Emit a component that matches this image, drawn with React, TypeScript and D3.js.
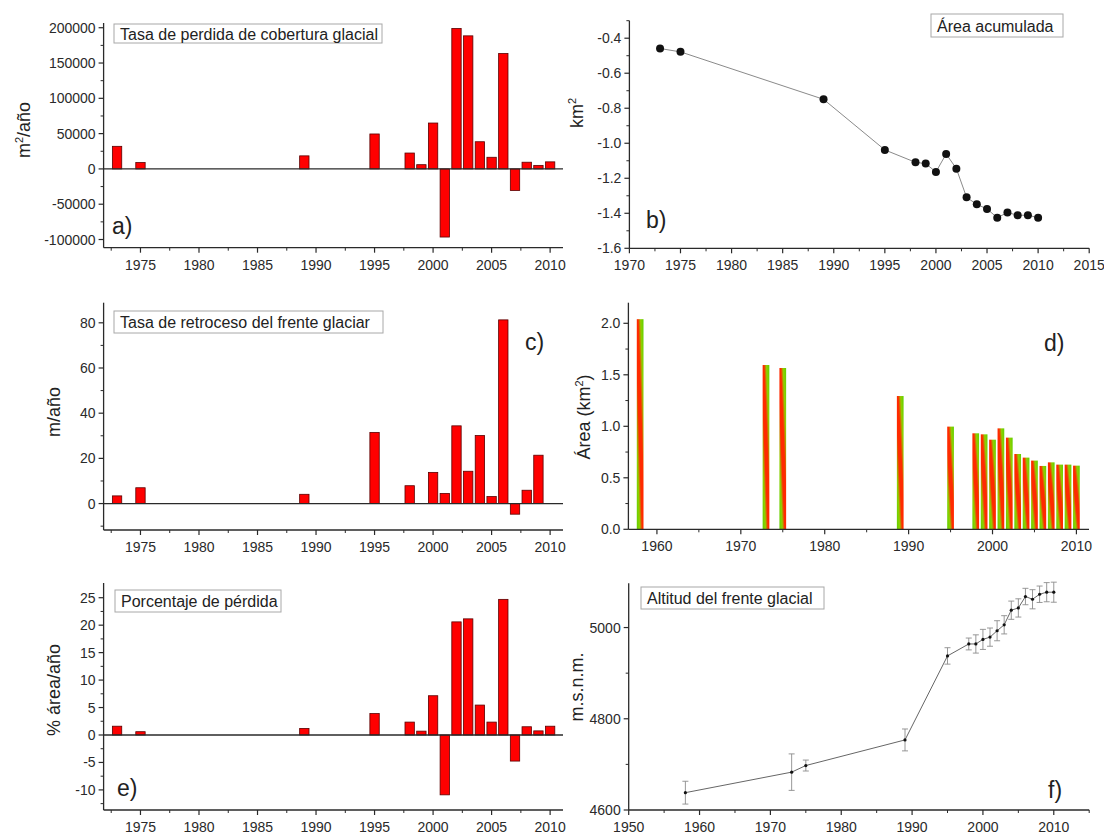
import React from 'react';
import * as d3 from 'd3';

// data
const yearsLoss = [1973, 1975, 1989, 1995, 1998, 1999, 2000, 2001, 2002, 2003, 2004, 2005, 2006, 2007, 2008, 2009, 2010];
const lossRate = [32000, 9000, 18500, 49500, 22500, 6000, 65000, -96500, 199000, 188500, 38500, 16500, 163500, -30500, 9500, 5000, 10000];

const cumArea = [-0.459, -0.478, -0.749, -1.038, -1.109, -1.116, -1.164, -1.061, -1.145, -1.309, -1.349, -1.375, -1.425, -1.396, -1.411, -1.411, -1.425];

const yearsRetreat = [1973, 1975, 1989, 1995, 1998, 2000, 2001, 2002, 2003, 2004, 2005, 2006, 2007, 2008, 2009];
const retreatRate = [3.4, 7.0, 4.1, 31.5, 7.9, 13.8, 4.5, 34.4, 14.3, 30.1, 3.1, 81.3, -4.7, 5.9, 21.4];

const yearsArea = [1958, 1973, 1975, 1989, 1995, 1998, 1999, 2000, 2001, 2002, 2003, 2004, 2005, 2006, 2007, 2008, 2009, 2010];
const areaKm2 = [2.04, 1.595, 1.566, 1.294, 0.997, 0.932, 0.922, 0.87, 0.98, 0.89, 0.731, 0.696, 0.667, 0.615, 0.65, 0.628, 0.628, 0.618];

const lossPct = [1.6, 0.6, 1.2, 3.9, 2.35, 0.7, 7.15, -10.9, 20.6, 21.15, 5.45, 2.35, 24.7, -4.75, 1.5, 0.75, 1.6];

const frontAlt = [4638, 4683, 4697.5, 4753.6, 4937.8, 4964, 4964, 4974, 4979, 4993, 5006, 5038, 5043, 5068, 5062, 5073, 5077.5, 5077.5];
const altErr = [25, 40, 12, 24, 18, 13, 20, 22, 20, 22, 20, 20, 20, 18, 21, 18, 21, 22];

const FONT = '"Liberation Sans", Arial, sans-serif';
const AX = '#2a2a2a';

type Box = { left: number; right: number; top: number; bottom: number };

function Axes({ box, x, y, xMajor, xMinor, yMajor, yMinor, yFmt }: any) {
  return (
    <g fontFamily={FONT} fill={AX}>
      <line x1={box.left} x2={box.right} y1={box.bottom} y2={box.bottom} stroke={AX} strokeWidth={1.3} />
      <line x1={box.left} x2={box.left} y1={box.top} y2={box.bottom} stroke={AX} strokeWidth={1.3} />
      {xMajor.map((t: number) => (
        <g key={'xm' + t}>
          <line x1={x(t)} x2={x(t)} y1={box.bottom} y2={box.bottom + 5} stroke={AX} strokeWidth={1.2} />
          <text x={x(t)} y={box.bottom + 22} textAnchor="middle" fontSize={14}>{t}</text>
        </g>
      ))}
      {xMinor.map((t: number) => (
        <line key={'xn' + t} x1={x(t)} x2={x(t)} y1={box.bottom} y2={box.bottom + 3} stroke={AX} strokeWidth={1} />
      ))}
      {yMajor.map((t: number) => (
        <g key={'ym' + t}>
          <line x1={box.left - 5} x2={box.left} y1={y(t)} y2={y(t)} stroke={AX} strokeWidth={1.2} />
          <text x={box.left - 8} y={y(t) + 5} textAnchor="end" fontSize={14}>{yFmt ? yFmt(t) : t}</text>
        </g>
      ))}
      {yMinor.map((t: number) => (
        <line key={'yn' + t} x1={box.left - 3} x2={box.left} y1={y(t)} y2={y(t)} stroke={AX} strokeWidth={1} />
      ))}
    </g>
  );
}

function Legend({ x0, y0, w, h, text }: any) {
  return (
    <g>
      <rect x={x0} y={y0} width={w} height={h} fill="#fff" stroke="#a8a8a8" strokeWidth={1} />
      <text x={x0 + 6} y={y0 + h / 2 + 6} fontFamily={FONT} fontSize={16} fill="#222">{text}</text>
    </g>
  );
}

function RedBars({ box, years, values, xDom, yDom, major, minor, yMajor, yMinor, fmt, legend, tag, tagPos }: any) {
  const x = d3.scaleLinear().domain(xDom).range([box.left, box.right]);
  const y = d3.scaleLinear().domain(yDom).range([box.bottom, box.top]);
  const bw = (x(1) - x(0)) * 0.8;
  return (
    <g>
      {years.map((yr: number, i: number) => {
        const v = values[i];
        return (
          <rect key={yr} x={x(yr) - bw / 2} width={bw} y={Math.min(y(v), y(0))} height={Math.abs(y(v) - y(0))}
            fill="#ff0000" stroke="#5a0000" strokeWidth={0.8} />
        );
      })}
      <line x1={box.left} x2={box.right} y1={y(0)} y2={y(0)} stroke={AX} strokeWidth={1.3} />
      <Axes box={box} x={x} y={y} xMajor={major} xMinor={minor} yMajor={yMajor} yMinor={yMinor} yFmt={fmt} />
      <Legend {...legend} />
      <text x={tagPos[0]} y={tagPos[1]} fontFamily={FONT} fontSize={23} fill="#222">{tag}</text>
    </g>
  );
}

export default function App() {
  const boxA: Box = { left: 103.6, right: 563, top: 23, bottom: 247.7 };
  const boxC: Box = { left: 103.6, right: 563, top: 302.7, bottom: 530 };
  const boxE: Box = { left: 103.6, right: 563, top: 583, bottom: 810 };
  const boxB: Box = { left: 629.4, right: 1089.2, top: 20.7, bottom: 248.3 };
  const boxD: Box = { left: 628.4, right: 1089, top: 302.7, bottom: 529.3 };
  const boxF: Box = { left: 628.7, right: 1089.2, top: 583.3, bottom: 810 };

  const leftDom = [1971.85, 2011.1];
  const leftMajor = d3.range(1975, 2011, 5);
  const leftMinor = d3.range(1972.5, 2011, 5);

  // panel b
  const xb = d3.scaleLinear().domain([1970, 2015]).range([boxB.left, boxB.right]);
  const yb = d3.scaleLinear().domain([-1.6, -0.3]).range([boxB.bottom, boxB.top]);
  const lineB = d3.line<number>().x((_, i) => xb(yearsLoss[i])).y(v => yb(v));

  // panel d
  const xd = d3.scaleLinear().domain([1956.6, 2011.5]).range([boxD.left, boxD.right]);
  const yd = d3.scaleLinear().domain([0, 2.2]).range([boxD.bottom, boxD.top]);
  const bwd = (xd(1) - xd(0)) * 0.8;

  // panel f
  const xf = d3.scaleLinear().domain([1950, 2015]).range([boxF.left, boxF.right]);
  const yf = d3.scaleLinear().domain([4600, 5097]).range([boxF.bottom, boxF.top]);
  const lineF = d3.line<number>().x((_, i) => xf(yearsArea[i])).y(v => yf(v));

  const ytitle = (x: number, y: number, content: any) => (
    <text transform={`translate(${x},${y}) rotate(-90)`} textAnchor="middle" fontFamily={FONT} fontSize={18} fill="#222">{content}</text>
  );

  return (
    <svg width={1104} height={834} style={{ position: 'absolute', left: 0, top: 0, background: '#fff' }}>
      <defs>
        <linearGradient id="rg" x1="1" y1="0" x2="0" y2="1">
          <stop offset="0" stopColor="#5fd000" />
          <stop offset="0.22" stopColor="#8fd000" />
          <stop offset="0.4" stopColor="#ff2a00" />
          <stop offset="0.6" stopColor="#ff2a00" />
          <stop offset="0.78" stopColor="#8fd000" />
          <stop offset="1" stopColor="#5fd000" />
        </linearGradient>
      </defs>
      <rect width={1104} height={834} fill="#fff" />

      {/* a */}
      <RedBars box={boxA} years={yearsLoss} values={lossRate} xDom={leftDom} yDom={[-111600, 206700]}
        major={leftMajor} minor={leftMinor} yMajor={d3.range(-100000, 200001, 50000)} yMinor={d3.range(-75000, 200000, 50000)}
        legend={{ x0: 114, y0: 24, w: 268, h: 19, text: 'Tasa de perdida de cobertura glacial' }} tag="a)" tagPos={[112, 234]} />
      {ytitle(30, 130, <>m<tspan dy={-7} fontSize={11}>2</tspan><tspan dy={7}>/año</tspan></>)}

      {/* c */}
      <RedBars box={boxC} years={yearsRetreat} values={retreatRate} xDom={leftDom} yDom={[-11.7, 88.9]}
        major={leftMajor} minor={leftMinor} yMajor={d3.range(0, 81, 20)} yMinor={d3.range(-10, 81, 20)}
        legend={{ x0: 114, y0: 311, w: 269, h: 22, text: 'Tasa de retroceso del frente glaciar' }} tag="c)" tagPos={[525, 350]} />
      {ytitle(60, 412, 'm/año')}

      {/* e */}
      <RedBars box={boxE} years={yearsLoss} values={lossPct} xDom={leftDom} yDom={[-13.66, 27.68]}
        major={leftMajor} minor={leftMinor} yMajor={d3.range(-10, 26, 5)} yMinor={d3.range(-12.5, 26, 5)}
        legend={{ x0: 115, y0: 590, w: 166, h: 22, text: 'Porcentaje de pérdida' }} tag="e)" tagPos={[117, 796]} />
      {ytitle(60, 690, '% área/año')}

      {/* b */}
      <path d={lineB(cumArea) || ''} fill="none" stroke="#8a8a8a" strokeWidth={1} />
      {cumArea.map((v, i) => (
        <circle key={i} cx={xb(yearsLoss[i])} cy={yb(v)} r={4} fill="#111" />
      ))}
      <Axes box={boxB} x={xb} y={yb} xMajor={d3.range(1970, 2016, 5)} xMinor={d3.range(1972.5, 2015, 5)}
        yMajor={d3.range(-16, -3, 2).map(v => v / 10)} yMinor={d3.range(-15, -2, 2).map(v => v / 10)} yFmt={(v: number) => v.toFixed(1)} />
      <Legend x0={931} y0={14} w={132} h={23} text="Área acumulada" />
      <text x={646} y={228} fontFamily={FONT} fontSize={23} fill="#222">b)</text>
      {ytitle(583, 113, <>km<tspan dy={-7} fontSize={11}>2</tspan></>)}

      {/* d */}
      {yearsArea.map((yr, i) => (
        <rect key={yr} x={xd(yr) - bwd / 2} width={bwd} y={yd(areaKm2[i])} height={yd(0) - yd(areaKm2[i])} fill="url(#rg)" />
      ))}
      <Axes box={boxD} x={xd} y={yd} xMajor={d3.range(1960, 2011, 10)} xMinor={d3.range(1965, 2011, 10)}
        yMajor={d3.range(0, 2.01, 0.5)} yMinor={d3.range(0.25, 2.2, 0.5)} yFmt={(v: number) => v.toFixed(1)} />
      <text x={1044} y={351} fontFamily={FONT} fontSize={23} fill="#222">d)</text>
      {ytitle(590, 417, <>Área (km<tspan dy={-7} fontSize={11}>2</tspan><tspan dy={7}>)</tspan></>)}

      {/* f */}
      <path d={lineF(frontAlt) || ''} fill="none" stroke="#666" strokeWidth={1} />
      {frontAlt.map((v, i) => {
        const cx = xf(yearsArea[i]);
        return (
          <g key={i} stroke="#8c8c8c" strokeWidth={0.9}>
            <line x1={cx} x2={cx} y1={yf(v - altErr[i])} y2={yf(v + altErr[i])} />
            <line x1={cx - 3} x2={cx + 3} y1={yf(v - altErr[i])} y2={yf(v - altErr[i])} />
            <line x1={cx - 3} x2={cx + 3} y1={yf(v + altErr[i])} y2={yf(v + altErr[i])} />
            <circle cx={cx} cy={yf(v)} r={1.6} fill="#111" stroke="none" />
          </g>
        );
      })}
      <Axes box={boxF} x={xf} y={yf} xMajor={d3.range(1950, 2011, 10)} xMinor={d3.range(1955, 2016, 5).filter(v => v % 10 !== 0 || v === 2015)}
        yMajor={[4600, 4800, 5000]} yMinor={[4700, 4900]} />
      <Legend x0={641} y0={587} w={183} h={22} text="Altitud del frente glacial" />
      <text x={1048} y={798} fontFamily={FONT} fontSize={23} fill="#222">f)</text>
      {ytitle(583, 687, 'm.s.n.m.')}
    </svg>
  );
}
